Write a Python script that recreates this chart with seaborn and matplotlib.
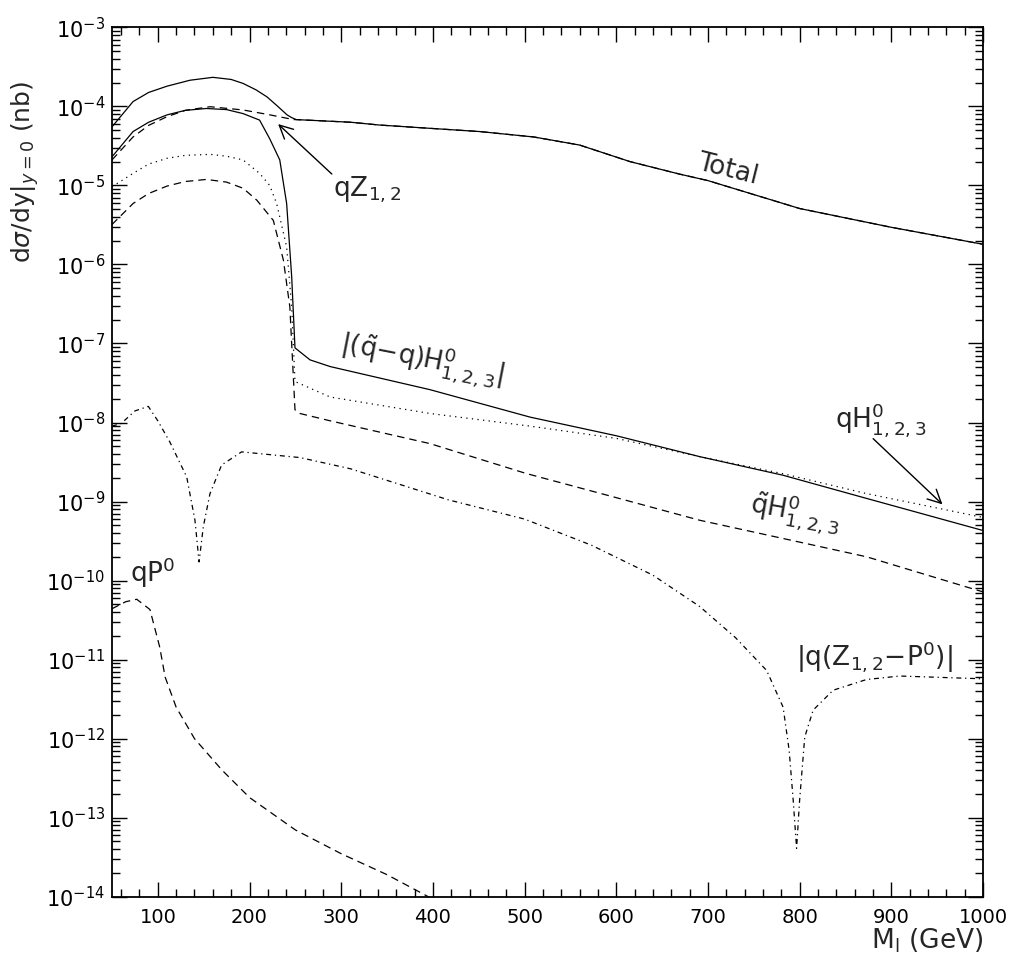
import matplotlib
matplotlib.use("Agg")
import matplotlib.pyplot as plt
import matplotlib.ticker as mticker
import pandas as pd
import seaborn as sns

# ---------------- data ----------------
m_total = [50, 73, 90, 110, 135, 160, 180, 193, 207, 219, 230, 241, 246, 251, 310, 342, 451, 510, 560,
           615, 669, 700, 800, 900, 1000]
total = [5.5e-5, 1.15e-4, 1.5e-4, 1.8e-4, 2.14e-4, 2.33e-4, 2.19e-4, 1.95e-4, 1.62e-4, 1.32e-4, 1.02e-4,
         7.8e-5, 7.2e-5, 6.8e-5, 6.3e-5, 5.8e-5, 4.8e-5, 4.1e-5, 3.24e-5, 2.0e-5, 1.39e-5, 1.15e-5,
         5.1e-6, 2.95e-6, 1.8e-6]

m_qz = [50, 73, 90, 110, 130, 157, 193, 220, 248, 251, 310, 342, 451, 510, 560, 615, 669, 700, 800, 900, 1000]
qz = [2.1e-5, 4.1e-5, 5.75e-5, 7.4e-5, 8.9e-5, 9.9e-5, 9.0e-5, 7.9e-5, 6.8e-5, 6.8e-5, 6.3e-5, 5.8e-5,
      4.8e-5, 4.1e-5, 3.24e-5, 2.0e-5, 1.39e-5, 1.15e-5, 5.1e-6, 2.95e-6, 1.8e-6]

m_diff = [50, 73, 90, 110, 130, 153, 175, 193, 211, 222, 233, 240.5, 246, 249.6, 266, 288, 397, 506, 600,
          691, 782, 870, 1000]
qtilde_minus_q = [2.3e-5, 4.8e-5, 6.3e-5, 7.8e-5, 8.9e-5, 9.4e-5, 9.1e-5, 8.1e-5, 6.7e-5, 3.9e-5, 2.1e-5,
                  5.9e-6, 7.0e-7, 8.8e-8, 6.2e-8, 5.1e-8, 2.6e-8, 1.17e-8, 6.8e-9, 3.7e-9, 2.15e-9,
                  1.12e-9, 4.3e-10]

m_qh = [50, 73, 90, 110, 130, 157, 175, 193, 211, 222, 229.6, 240.5, 246, 249.6, 288, 397, 506, 600, 691,
        782, 873, 1000]
qh = [9.6e-6, 1.42e-5, 1.86e-5, 2.2e-5, 2.4e-5, 2.47e-5, 2.34e-5, 2.1e-5, 1.42e-5, 1.0e-5, 5.9e-6, 1.67e-6,
      2.9e-7, 3.3e-8, 2.1e-8, 1.3e-8, 9.0e-9, 6.3e-9, 3.7e-9, 2.25e-9, 1.26e-9, 6.3e-10]

m_qth = [50, 73, 90, 110, 130, 153, 175, 193, 208, 226, 237, 244, 249.6, 255, 288, 397, 502, 600, 691,
         873, 993, 1000]
qtilde_h = [3.2e-6, 5.9e-6, 7.9e-6, 9.8e-6, 1.12e-5, 1.19e-5, 1.1e-5, 9.2e-6, 6.5e-6, 3.6e-6, 1.13e-6,
            2.9e-7, 1.45e-8, 1.3e-8, 1.05e-8, 5.4e-9, 2.26e-9, 1.12e-9, 5.8e-10, 2.0e-10, 7.6e-11, 7.2e-11]

m_zp = [50, 60, 75, 89.6, 100, 113, 131.5, 140.5, 145, 149.6, 156.9, 169.6, 191.4, 255, 310, 417, 500,
        573, 640, 691, 730, 764, 782, 788.6, 793, 796.7, 800, 805.6, 814.8, 836.6, 873, 909.3, 945.6, 993,
        1000]
qz_minus_p = [9.0e-9, 9.7e-9, 1.4e-8, 1.6e-8, 1.05e-8, 5.7e-9, 2.05e-9, 5.8e-10, 1.72e-10, 4.8e-10,
              1.26e-9, 2.9e-9, 4.25e-9, 3.6e-9, 2.6e-9, 1.05e-9, 6.0e-10, 2.8e-10, 1.17e-10, 4.7e-11,
              1.9e-11, 7.3e-12, 2.5e-12, 7.1e-13, 1.66e-13, 4.1e-14, 1.66e-13, 1.05e-12, 2.3e-12, 4.1e-12,
              5.6e-12, 6.2e-12, 6.0e-12, 5.75e-12, 5.7e-12]

m_qp = [50, 65, 77, 91.4, 102, 108, 120, 140, 170, 200, 250, 300, 350, 395, 420]
qp = [4.4e-11, 5.4e-11, 5.8e-11, 4.3e-11, 1.45e-11, 6.0e-12, 2.5e-12, 1.0e-12, 4.0e-13, 1.8e-13, 7.0e-14,
      3.5e-14, 1.9e-14, 1.0e-14, 7.0e-15]

x_ticks = [100, 200, 300, 400, 500, 600, 700, 800, 900, 1000]
y_decades = [1e-14, 1e-13, 1e-12, 1e-11, 1e-10, 1e-9, 1e-8, 1e-7, 1e-6, 1e-5, 1e-4, 1e-3]

# ---------------- style ----------------
sns.set_style("ticks")
plt.rcParams['font.family'] = ['DejaVu Sans']
plt.rcParams['mathtext.fontset'] = 'dejavusans'

fig = plt.figure(figsize=(10.18, 9.69), dpi=100)
ax = fig.add_axes([0.110, 0.0746, 0.8556, 0.8972])


def draw(m, v, ls):
    df = pd.DataFrame({"M": m, "v": v})
    sns.lineplot(data=df, x="M", y="v", ax=ax, color="black", lw=0.9,
                 sort=False, estimator=None)
    ax.lines[-1].set_linestyle(ls)


draw(m_qz, qz, (0, (6, 4)))
draw(m_total, total, "-")
draw(m_diff, qtilde_minus_q, "-")
draw(m_qh, qh, (0, (1, 3.5)))
draw(m_qth, qtilde_h, (0, (6, 4)))
draw(m_zp, qz_minus_p, (0, (4, 3, 1, 3)))
draw(m_qp, qp, (0, (6, 4)))

ax.set_yscale("log")
ax.set_xlim(50, 1000)
ax.set_ylim(1e-14, 1e-3)

ax.xaxis.set_major_locator(mticker.FixedLocator(x_ticks))
ax.xaxis.set_minor_locator(mticker.MultipleLocator(20))
ax.set_xticklabels([str(t) for t in x_ticks])
ax.yaxis.set_major_locator(mticker.FixedLocator(y_decades))
ax.yaxis.set_major_formatter(mticker.LogFormatterSciNotation())
minor_y = [k * d for d in y_decades[:-1] for k in range(2, 10)]
ax.yaxis.set_minor_locator(mticker.FixedLocator(minor_y))
ax.yaxis.set_minor_formatter(mticker.NullFormatter())

ax.tick_params(which="both", direction="in", top=True, right=True, width=1.0, colors="black")
ax.tick_params(which="major", length=11)
ax.tick_params(which="minor", length=5.5)
ax.tick_params(axis="x", which="major", pad=8, labelsize=14)
ax.tick_params(axis="y", which="major", pad=5, labelsize=15)
for s in ax.spines.values():
    s.set_linewidth(1.3)
    s.set_color("black")

ax.set_xlabel(r"M$_\mathregular{l}$ (GeV)", fontsize=19, loc="right", labelpad=0)
ax.set_ylabel(r"d$\sigma$/dy|$_{y=0}$ (nb)", fontsize=18)
ax.yaxis.set_label_coords(-0.082, 0.834)

# ---------------- labels ----------------
fs = 19
ax.text(722, 10 ** -4.80, "Total", fontsize=fs, rotation=-14, ha="center", va="center")
ax.text(291, 10 ** -5.05, r"qZ$_{1,2}$", fontsize=fs, ha="left", va="center")
ax.annotate("", xy=(229, 10 ** -4.2), xytext=(292, 10 ** -4.88),
            arrowprops=dict(arrowstyle="->", lw=1.0, color="black", mutation_scale=24))
ax.text(388, 10 ** -7.2, r"|($\tilde{\mathregular{q}}$$-$q)H$^0_{1,2,3}$|", fontsize=fs,
        rotation=-11, ha="center", va="center")
ax.text(888, 10 ** -7.97, r"qH$^0_{1,2,3}$", fontsize=fs, ha="center", va="center")
ax.annotate("", xy=(958, 10 ** -9.06), xytext=(878, 10 ** -8.18),
            arrowprops=dict(arrowstyle="->", lw=1.0, color="black", mutation_scale=24))
ax.text(795, 10 ** -9.13, r"$\tilde{\mathregular{q}}$H$^0_{1,2,3}$", fontsize=fs, rotation=-10,
        ha="center", va="center")
ax.text(94, 10 ** -9.9, r"qP$^0$", fontsize=fs, ha="center", va="center")
ax.text(881, 10 ** -10.97, r"|q(Z$_{1,2}$$-$P$^0$)|", fontsize=fs, ha="center", va="center")

fig.savefig("out.png", dpi=100)
